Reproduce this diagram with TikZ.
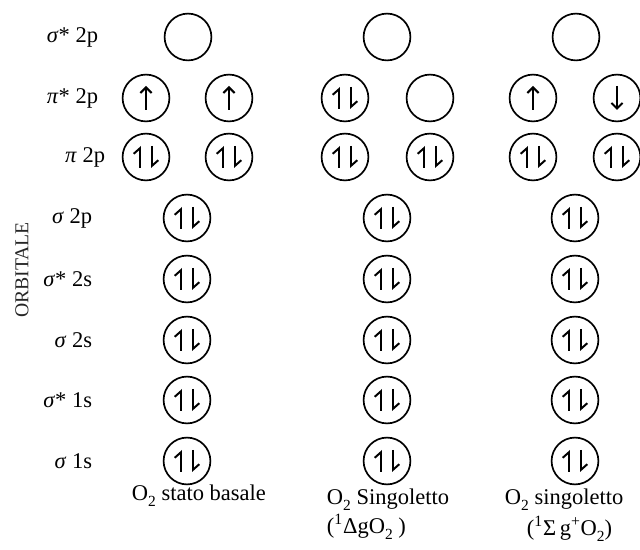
\documentclass[tikz,border=0pt]{standalone}
\usepackage{fontspec}
\setmainfont{Liberation Serif}
\usetikzlibrary{arrows.meta}

\newcommand{\osub}[1]{\raisebox{-0.6ex}{\fontsize{11}{11}\selectfont #1}}

\begin{document}
\begin{tikzpicture}[
    x=0.025cm, y=-0.025cm,
    orb/.style={draw, circle, line width=1.2pt, minimum size=1.17cm, inner sep=0pt},
    spin/.style={line width=1.4pt, -{Straight Barb[length=4pt, width=8pt]}},
    hup/.style={line width=1.4pt, -{Straight Barb[left, length=4pt, width=9pt]}},
    hdown/.style={line width=1.4pt, -{Straight Barb[left, length=4pt, width=9pt]}},
    up/.style={orb, path picture={\draw[spin] ([shift={(0,12)}]path picture bounding box.center) -- ++(0,-24);}},
    down/.style={orb, path picture={\draw[spin] ([shift={(0,-12)}]path picture bounding box.center) -- ++(0,24);}},
    pair/.style={orb, path picture={
        \draw[hup]   ([shift={(-6,11)}]path picture bounding box.center) -- ++(0,-22);
        \draw[hdown] ([shift={(6,-11)}]path picture bounding box.center) -- ++(0,22);}},
    lab/.style={anchor=east, font=\fontsize{16}{19}\selectfont},
    state/.style={anchor=west, font=\fontsize{16}{19}\selectfont}
]
\useasboundingbox (0,0) rectangle (640,550);

% orbital names
\node[lab] (l1) at (103,37)  {\textit{σ}* 2p};
\node[lab] (l2) at (103,98)  {\textit{π}* 2p};
\node[lab] (l3) at (110,157) {\textit{π} 2p};
\node[lab] (l4) at (97,218)  {\textit{σ} 2p};
\node[lab] (l5) at (97,279)  {\textit{σ}* 2s};
\node[lab] (l6) at (97,340)  {\textit{σ} 2s};
\node[lab] (l7) at (97,400)  {\textit{σ}* 1s};
\node[lab] (l8) at (97,461)  {\textit{σ} 1s};
\node[rotate=90, font=\fontsize{14}{16}\selectfont, text=black!85] (axis) at (22,270) {ORBITALE};

% O2 stato basale
\node[orb]  (g0)  at (188,37) {};
\node[up]   (g1a) at (146,98) {};
\node[up]   (g1b) at (229,98) {};
\node[pair] (g2a) at (146,157) {};
\node[pair] (g2b) at (229,157) {};

% singoletto delta
\node[orb]  (d0)  at (387,37) {};
\node[pair] (d1a) at (345,98) {};
\node[orb]  (d1b) at (430,98) {};
\node[pair] (d2a) at (345,157) {};
\node[pair] (d2b) at (430,157) {};

% singoletto sigma
\node[orb]  (s0)  at (576,37) {};
\node[up]   (s1a) at (533,98) {};
\node[down] (s1b) at (617,98) {};
\node[pair] (s2a) at (533,157) {};
\node[pair] (s2b) at (617,157) {};

% lower filled levels
\foreach \y/\n in {218/a, 279/b, 340/c, 400/d, 461/e} {
  \node[pair] (g\n) at (187,\y) {};
  \node[pair] (d\n) at (387,\y) {};
  \node[pair] (s\n) at (575,\y) {};
}

% states
\node[state] (st1)  at (127,496) {O\osub{2} stato basale};
\node[state] (st2)  at (322,500) {O\osub{2} Singoletto};
\node[state] (st2b) at (322,527) {(\textsuperscript{1}ΔgO\osub{2} )};
\node[state] (st3)  at (500,500) {O\osub{2} singoletto};
\node[state] (st3b) at (522,529) {(\textsuperscript{1}Σ\,g\textsuperscript{+}O\osub{2})};
\end{tikzpicture}
\end{document}
